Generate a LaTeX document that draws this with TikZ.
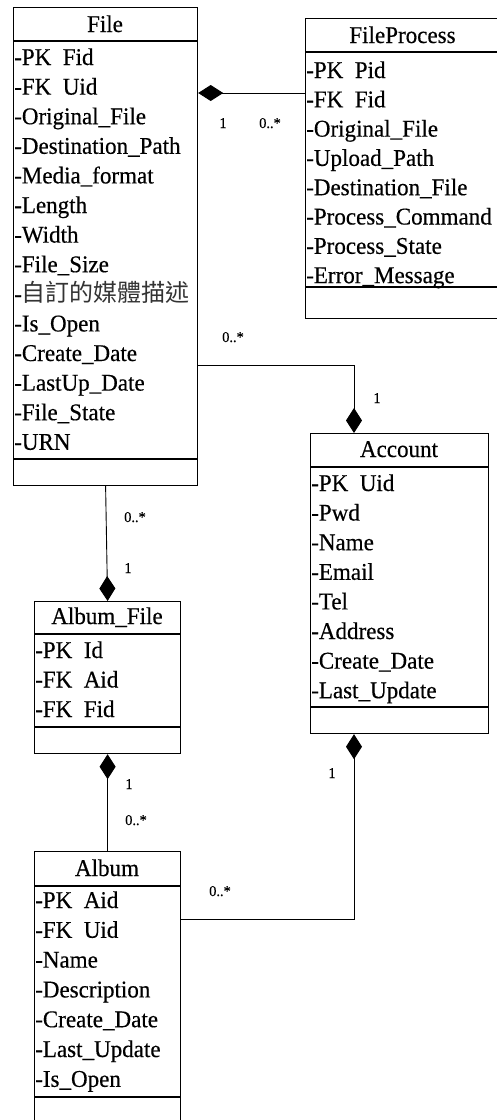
\documentclass[tikz,border=0pt]{standalone}
\usepackage{fontspec}
\setmainfont[FakeStretch=0.96,FakeBold=0.4]{Liberation Serif}
\newfontfamily\cjk{Noto Sans CJK TC}
\usetikzlibrary{arrows.meta,calc}
\begin{document}
\begin{tikzpicture}[x=1pt,y=-1pt,
  cls/.style={draw, line width=1.2pt, inner sep=0pt, anchor=north west},
  sep/.style={line width=1.2pt},
  ttl/.style={font=\fontsize{24}{28}\selectfont, inner sep=0pt, anchor=base},
  row/.style={font=\fontsize{24}{28}\selectfont, inner sep=0pt, anchor=base west},
  mult/.style={font=\fontsize{15}{18}\selectfont, inner sep=0pt, anchor=base},
  comp/.style={line width=0.9pt, {Diamond[length=25pt,width=16pt]}-}]
\useasboundingbox (0,0) rectangle (497,1120);
\clip (0,0) rectangle (497,1120);

% File
\node[cls, minimum width=184pt, minimum height=478pt] (file) at (13,7) {};
\draw[sep] (13,41) -- (197,41);
\draw[sep] (13,459) -- (197,459);
\node[ttl] (file-t) at (105,32) {File};
\foreach \t [count=\i from 0] in {-PK~~Fid,-FK~~Uid,-Original\_File,-Destination\_Path,-Media\_format,-Length,-Width,-File\_Size,{-{\cjk\fontsize{24}{28}\selectfont\color{black!80}自訂的媒體描述}},-Is\_Open,-Create\_Date,-LastUp\_Date,-File\_State,-URN}
  \node[row] (file-r\i) at (14,65+29.6*\i) {\t};

% FileProcess
\node[cls, minimum width=195pt, minimum height=300pt] (fp) at (305,18) {};
\draw[sep] (305,52) -- (500,52);
\draw[sep] (305,287) -- (500,287);
\node[ttl] (fp-t) at (402.5,43) {FileProcess};
\foreach \t [count=\i from 0] in {-PK~~Pid,-FK~~Fid,-Original\_File,-Upload\_Path,-Destination\_File,-Process\_Command,-Process\_State,-Error\_Message}
  \node[row] (fp-r\i) at (306,78+29.3*\i) {\t};

% Account
\node[cls, minimum width=178pt, minimum height=300pt] (acc) at (310,433) {};
\draw[sep] (310,467) -- (488,467);
\draw[sep] (310,707) -- (488,707);
\node[ttl] (acc-t) at (399,457) {Account};
\foreach \t [count=\i from 0] in {-PK~~Uid,-Pwd,-Name,-Email,-Tel,-Address,-Create\_Date,-Last\_Update}
  \node[row] (acc-r\i) at (311,491+29.6*\i) {\t};

% Album_File
\node[cls, minimum width=146pt, minimum height=152pt] (af) at (34,601) {};
\draw[sep] (34,634) -- (180,634);
\draw[sep] (34,727) -- (180,727);
\node[ttl] (af-t) at (107,624) {Album\_File};
\foreach \t [count=\i from 0] in {-PK~~Id,-FK~~Aid,-FK~~Fid}
  \node[row] (af-r\i) at (35,658+29.5*\i) {\t};

% Album
\node[cls, minimum width=146pt, minimum height=280pt] (album) at (34,851) {};
\draw[sep] (34,886) -- (180,886);
\draw[sep] (34,1097) -- (180,1097);
\node[ttl] (album-t) at (107,876) {Album};
\foreach \t [count=\i from 0] in {-PK~~Aid,-FK~~Uid,-Name,-Description,-Create\_Date,-Last\_Update,-Is\_Open}
  \node[row] (album-r\i) at (35,908+29.8*\i) {\t};

% connectors
\draw[comp] ($(file.north east)+(0,86)$) -- ($(fp.north west)+(0,75)$);
\draw[comp] ($(acc.north west)+(44,0)$) |- ($(file.north east)+(0,358)$);
\draw[comp] (af.north) -- (file.south);
\draw[comp] (af.south) -- (album.north);
\draw[comp] ($(acc.south west)+(44,0)$) |- ($(album.north east)+(0,68)$);

% multiplicities
\node[mult] (m1) at (223,128) {1};
\node[mult] (m2) at (270,128) {0..*};
\node[mult] (m3) at (233,342) {0..*};
\node[mult] (m4) at (377,403) {1};
\node[mult] (m5) at (135,522) {0..*};
\node[mult] (m6) at (128,573) {1};
\node[mult] (m7) at (129,789) {1};
\node[mult] (m8) at (136,825) {0..*};
\node[mult] (m9) at (220,896) {0..*};
\node[mult] (m10) at (332,778) {1};
\end{tikzpicture}
\end{document}
